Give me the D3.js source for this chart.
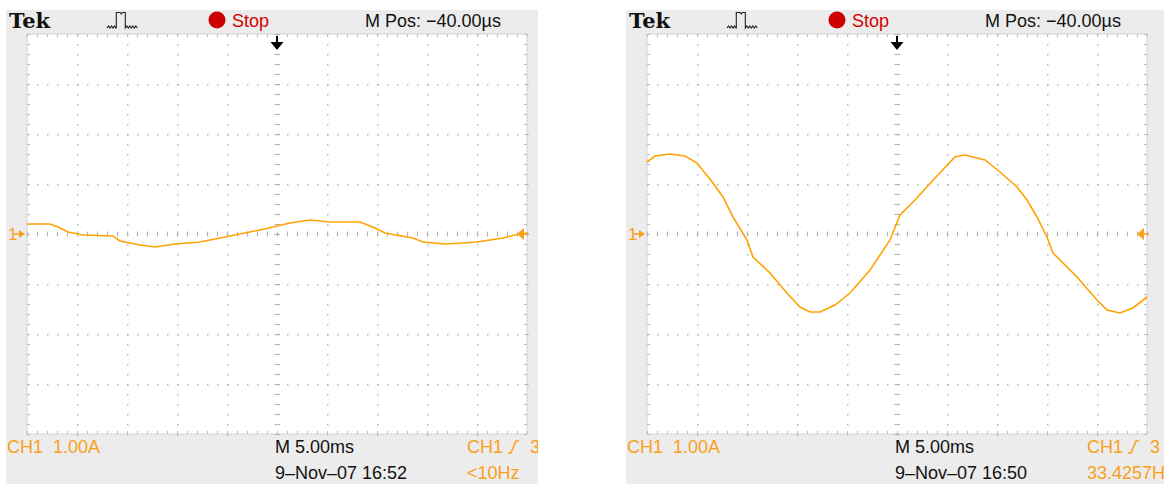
<!DOCTYPE html>
<html>
<head>
<meta charset="utf-8">
<script src="https://cdn.jsdelivr.net/npm/d3@7"></script>
<style>
  body { margin: 0; background: #fff; }
  text { white-space: pre; }
</style>
</head>
<body>
<div class="canvas"></div>
<script>
// time in ms from trigger, amplitude in A (1.00 A/div)
const leftTime = [-25, -22.7, -21.9, -20.9, -19.4, -16.4, -15.7, -13.7, -12.2, -10.2, -7.7, -4.7, -1.7, 1.3, 3.3, 5.3, 8.3, 9.8, 10.8, 13.6, 14.6, 16.8, 18.6, 20.0, 21.3, 22.6, 23.8, 25];
const leftAmp  = [0.20, 0.20, 0.14, 0.04, -0.02, -0.04, -0.14, -0.22, -0.26, -0.20, -0.16, -0.04, 0.08, 0.22, 0.28, 0.24, 0.24, 0.12, 0.02, -0.08, -0.16, -0.20, -0.18, -0.16, -0.12, -0.08, -0.02, 0.02];

const rightTime = [-25, -24.2, -22.7, -21.2, -20, -18.4, -17.4, -16.4, -15, -14.4, -12.7, -11, -9.7, -8.7, -7.7, -6.2, -4.7, -2.7, -0.7, 0.3, 1.8, 3.8, 5.8, 6.8, 8.8, 10.3, 12, 13, 14, 15, 15.6, 16.3, 18, 20, 21, 22.3, 23.6, 25];
const rightAmp  = [1.44, 1.56, 1.60, 1.56, 1.42, 1.02, 0.74, 0.34, -0.12, -0.46, -0.78, -1.18, -1.46, -1.56, -1.56, -1.42, -1.18, -0.72, -0.12, 0.38, 0.68, 1.12, 1.54, 1.58, 1.48, 1.24, 0.94, 0.68, 0.34, -0.06, -0.38, -0.52, -0.86, -1.32, -1.52, -1.58, -1.48, -1.26];

const panelDates = ["9–Nov–07 16:52", "9–Nov–07 16:50"];
const panelFreqs = ["<10Hz", "33.4257Hz"];

const W = 1164, H = 484;
const orange = "#f9a01b";
const trace = "#ffa200";

const svg = d3.select(".canvas")
  .append("svg")
    .attr("width", W)
    .attr("height", H);

function drawScope(ox, panelW, time, amp, date, freq, id) {
    const g = svg.append("g").attr("transform", `translate(${ox},0)`);

    g.append("clipPath").attr("id", "clip" + id)
      .append("rect").attr("x", 6).attr("y", 10).attr("width", panelW).attr("height", H - 10);
    const p = g.append("g").attr("clip-path", `url(#clip${id})`);

    p.append("rect")
        .attr("x", 6).attr("y", 10)
        .attr("width", panelW).attr("height", H - 10)
        .attr("fill", "#ececec");

    const x = d3.scaleLinear().domain([-25, 25]).range([27, 527]);
    const y = d3.scaleLinear().domain([-4, 4]).range([434, 34]);

    p.append("rect")
        .attr("x", x(-25)).attr("y", y(4))
        .attr("width", x(25) - x(-25)).attr("height", y(-4) - y(4))
        .attr("fill", "#fff")
        .attr("stroke", "#d4d4d4");

    const minorX = d3.range(-25, 25.001, 1);
    const minorY = d3.range(-4, 4.001, 0.2);
    const majorX = d3.range(-20, 20.001, 5).filter(v => v !== 0);
    const majorY = d3.range(-3, 3.001, 1).filter(v => v !== 0);

    // edge ticks
    const edge = p.append("g").attr("stroke", "#bdbdbd").attr("stroke-width", 1);
    minorX.forEach(t => {
        edge.append("line").attr("x1", x(t) + 0.5).attr("x2", x(t) + 0.5).attr("y1", y(4)).attr("y2", y(4) + 3);
        edge.append("line").attr("x1", x(t) + 0.5).attr("x2", x(t) + 0.5).attr("y1", y(-4)).attr("y2", y(-4) - 3);
    });
    minorY.forEach(v => {
        edge.append("line").attr("y1", y(v) + 0.5).attr("y2", y(v) + 0.5).attr("x1", x(-25)).attr("x2", x(-25) + 3);
        edge.append("line").attr("y1", y(v) + 0.5).attr("y2", y(v) + 0.5).attr("x1", x(25)).attr("x2", x(25) - 3);
    });

    // dotted graticule
    const dots = p.append("g").attr("fill", "#b4b4b4");
    majorY.forEach(v => {
        minorX.forEach(t => {
            dots.append("rect").attr("x", x(t)).attr("y", y(v)).attr("width", 1.5).attr("height", 1.5);
        });
    });
    majorX.forEach(t => {
        minorY.forEach(v => {
            dots.append("rect").attr("x", x(t)).attr("y", y(v)).attr("width", 1.5).attr("height", 1.5);
        });
    });

    // center cross with small ticks
    const cross = p.append("g").attr("stroke", "#b4b4b4").attr("stroke-width", 1.2);
    minorX.forEach(t => {
        cross.append("line").attr("x1", x(t) + 0.5).attr("x2", x(t) + 0.5).attr("y1", y(0) - 2.5).attr("y2", y(0) + 2.5);
    });
    minorY.forEach(v => {
        cross.append("line").attr("y1", y(v) + 0.5).attr("y2", y(v) + 0.5).attr("x1", x(0) - 2.5).attr("x2", x(0) + 3);
    });

    // waveform
    const pts = time.map((t, i) => [t, amp[i]]);
    p.append("path")
        .datum(pts)
        .attr("fill", "none")
        .attr("stroke", trace)
        .attr("stroke-width", 1.6)
        .attr("d", d3.line().x(d => x(d[0])).y(d => y(d[1])));

    // ground marker and level marker
    p.append("text").attr("x", 8).attr("y", y(0) + 6).attr("fill", orange)
        .attr("font-family", "Liberation Sans").attr("font-size", 17).text("1");
    p.append("path").attr("fill", orange)
        .attr("d", `M${x(-25) - 8},${y(0) - 4} L${x(-25) - 2},${y(0)} L${x(-25) - 8},${y(0) + 4} Z M${x(-25) - 13},${y(0) - 0.8} h6 v1.6 h-6 Z`);
    p.append("path").attr("fill", orange)
        .attr("d", `M${x(25) - 10},${y(0)} L${x(25) - 3},${y(0) - 6} L${x(25) - 3},${y(0) + 6} Z M${x(25) - 4},${y(0) - 0.8} h6 v1.6 h-6 Z`);

    // trigger position arrow
    p.append("path").attr("fill", "#000")
        .attr("d", `M${x(0) - 1},${36} h2 v6 h5.5 L${x(0)},${50} L${x(0) - 6.5},${42} h5.5 Z`);

    // header
    p.append("text").attr("x", 9).attr("y", 28)
        .attr("font-family", "DejaVu Serif").attr("font-weight", "bold").attr("font-size", 21)
        .attr("fill", "#111").text("Tek");
    p.append("path").attr("fill", "none").attr("stroke", "#222").attr("stroke-width", 1.1)
        .attr("d", "M107,28 l1.5,-2 l1.5,2 l1.5,-2 l1.5,2 l1.5,-2 l1.3,2 h0.5 V12.5 h4 l1,1.5 l1,-1.5 h3 V28 l1.5,-2 l1.5,2 l1.5,-2 l1.5,2 l1.5,-2 l1.5,2 l1.5,-2 l1.5,2");
    p.append("circle").attr("cx", 217).attr("cy", 20).attr("r", 8.5).attr("fill", "#cc0000");
    p.append("text").attr("x", 232).attr("y", 27)
        .attr("font-family", "Liberation Sans").attr("font-size", 18)
        .attr("fill", "#d40000").text("Stop");
    p.append("text").attr("x", 365).attr("y", 27)
        .attr("font-family", "Liberation Sans").attr("font-size", 18)
        .attr("fill", "#111").text("M Pos: −40.00µs");

    // footer
    p.append("text").attr("x", 7).attr("y", 453)
        .attr("font-family", "Liberation Sans").attr("font-size", 18)
        .attr("fill", orange).text("CH1  1.00A");
    p.append("text").attr("x", 275).attr("y", 453)
        .attr("font-family", "Liberation Sans").attr("font-size", 18)
        .attr("fill", "#111").text("M 5.00ms");
    p.append("text").attr("x", 275).attr("y", 479)
        .attr("font-family", "Liberation Sans").attr("font-size", 18)
        .attr("fill", "#111").text(date);
    p.append("text").attr("x", 467).attr("y", 453)
        .attr("font-family", "Liberation Sans").attr("font-size", 18)
        .attr("fill", orange).text("CH1");
    p.append("path").attr("fill", "none").attr("stroke", orange).attr("stroke-width", 1.5)
        .attr("d", "M508,453 h3 l5,-12 h3");
    p.append("text").attr("x", 530).attr("y", 453)
        .attr("font-family", "Liberation Sans").attr("font-size", 18)
        .attr("fill", orange).text("3");
    p.append("text").attr("x", 467).attr("y", 479)
        .attr("font-family", "Liberation Sans").attr("font-size", 18)
        .attr("fill", orange).text(freq);
}

drawScope(0, 532, leftTime, leftAmp, panelDates[0], panelFreqs[0], 0);
drawScope(620, 544, rightTime, rightAmp, panelDates[1], panelFreqs[1], 1);
</script>
</body>
</html>
